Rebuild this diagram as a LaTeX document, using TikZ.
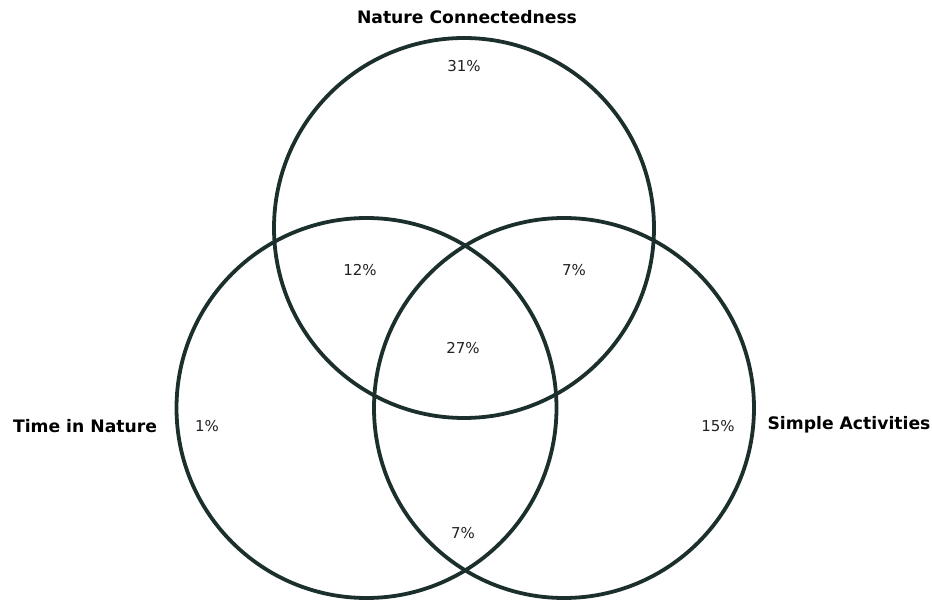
\documentclass[tikz,border=0pt]{standalone}
\usepackage{fontspec}
\setmainfont{DejaVu Sans}
\definecolor{ring}{HTML}{1B302C}
\definecolor{txt}{HTML}{222222}
\begin{document}
\begin{tikzpicture}[x=1pt,y=-1pt,
  ring/.style={draw=ring,line width=3.8pt},
  setlabel/.style={font=\bfseries\fontsize{17.2}{20}\selectfont,text=black},
  pct/.style={font=\fontsize{15}{18}\selectfont,text=txt}]
\useasboundingbox (0,0) rectangle (932,601);
\draw[ring] (464,228) circle (190);
\draw[ring] (366.5,408) circle (190);
\draw[ring] (564,408) circle (190);
\node[setlabel] (nc) at (467,17) {Nature Connectedness};
\node[setlabel] (tn) at (85,426) {Time in Nature};
\node[setlabel] (sa) at (849,425) {Simple Activities};
\node[pct] (p31) at (464,66) {31\%};
\node[pct] (p12) at (360,270) {12\%};
\node[pct] (p7a) at (574,270) {7\%};
\node[pct] (p27) at (463,348) {27\%};
\node[pct] (p1) at (207,426) {1\%};
\node[pct] (p15) at (718,426) {15\%};
\node[pct] (p7b) at (463,533) {7\%};
\end{tikzpicture}
\end{document}
